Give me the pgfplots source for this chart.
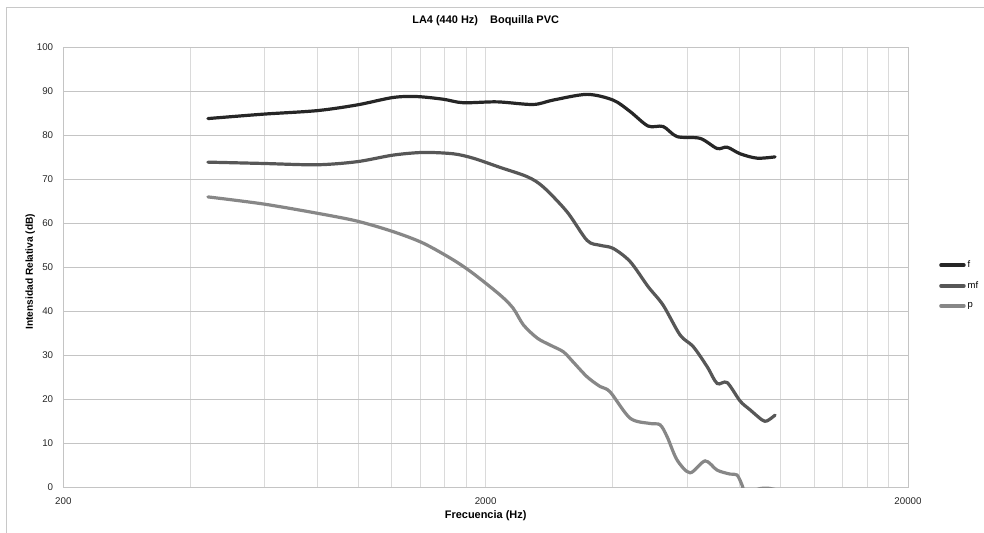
\documentclass[border=0pt]{standalone}
\usepackage{pgfplots}
\pgfplotsset{compat=1.18}
\usepackage{pgfplotstable}
\usepackage{fontspec}
\setmainfont{Liberation Sans}
\definecolor{cf}{HTML}{262626}
\definecolor{cmf}{HTML}{575757}
\definecolor{cp}{HTML}{878787}
\definecolor{gridh}{HTML}{C4C4C4}
\definecolor{gridv}{HTML}{DADADA}
\definecolor{framec}{HTML}{C8C8C8}

\pgfplotstableread{
x y
440 83.8
594 84.8
797 85.6
992 86.9
1208 88.6
1376 88.8
1586 88.2
1769 87.4
2129 87.6
2590 87.0
2888 88.0
3477 89.3
4006 88.0
4396 85.4
4849 82.1
5262 82.0
5679 79.7
6439 79.3
7064 77.0
7460 77.3
8007 75.8
8785 74.8
9689 75.1
}\dataf

\pgfplotstableread{
x y
440 73.9
594 73.6
797 73.3
992 74.0
1208 75.5
1422 76.1
1675 75.8
1868 74.8
2164 72.7
2507 70.6
2735 68.3
3117 62.6
3477 56.1
3733 55.0
4006 54.3
4396 51.3
4849 45.6
5262 41.4
5773 34.6
6198 32.0
6691 27.4
7064 23.6
7460 23.8
8007 19.6
8455 17.6
9027 15.3
9277 15.1
9689 16.4
}\datamf

\pgfplotstableread{
x y
440 66.0
594 64.4
797 62.3
992 60.5
1208 58.1
1422 55.5
1675 51.7
1868 48.6
2164 43.7
2323 40.7
2457 36.9
2650 33.9
2846 32.3
3054 30.8
3221 28.5
3477 25.1
3733 22.9
3941 21.7
4396 15.7
4903 14.5
5176 14.2
5378 11.5
5679 6.2
6096 3.3
6617 6.0
7064 3.9
7583 3.0
7874 2.8
8092 0.5
8318 -2.5
8785 -0.5
9277 -0.2
9689 -0.5
}\datap

\begin{document}
\begin{tikzpicture}
\path[use as bounding box] (-63.3bp,-45.7bp) rectangle (920.7bp,487.3bp);
\draw[framec, line width=1bp] (-56.6bp,-80bp) -- (-56.6bp,479.3bp) -- (1000bp,479.3bp);
\begin{axis}[
  at={(0,0)}, anchor=south west,
  scale only axis, width=844.7bp, height=440bp,
  xmode=log, xmin=200, xmax=20000, ymin=0, ymax=100,
  xtick={200,2000,20000}, xticklabels={200,2000,20000},
  minor xtick={400,600,800,1000,1200,1400,1600,1800,4000,6000,8000,10000,12000,14000,16000,18000},
  ytick={0,10,...,100},
  /pgf/number format/assume math mode=true,
  tick style={draw=none}, minor tick style={draw=none},
  xmajorgrids, xminorgrids, ymajorgrids,
  major x grid style={gridv, line width=1bp},
  minor x grid style={gridv, line width=1bp},
  major y grid style={gridh, line width=1bp},
  axis line style={draw=gridh, line width=1bp},
  ticklabel style={font=\fontsize{9.8}{11}\selectfont, text=black!85},
  yticklabel style={inner sep=0pt, anchor=east, xshift=-10bp},
  xticklabel style={inner sep=0pt, anchor=north, yshift=-10.5bp},
  title={LA4 (440 Hz)\hspace{1.1em}Boquilla PVC},
  title style={at={(axis description cs:0.5,1.046)}, anchor=center, font=\fontsize{11}{13}\selectfont\bfseries},
  xlabel={Frecuencia (Hz)},
  xlabel style={at={(axis description cs:0.5,-0.0652)}, anchor=center, font=\fontsize{11}{13}\selectfont\bfseries},
  ylabel={Intensidad Relativa (dB)},
  ylabel style={at={(axis description cs:-0.0391,0.49)}, anchor=center, font=\fontsize{10.2}{12}\selectfont\bfseries},
  legend style={draw=none, fill=none, at={(axis description cs:1,0.5)}, anchor=west, xshift=31bp, yshift=-17.7bp,
    font=\fontsize{9.5}{10}\selectfont, row sep=8.5bp, inner sep=0pt},
  legend image code/.code={\draw[#1, line width=3.5bp, line cap=round] (0bp,0bp) -- (23bp,0bp);},
  legend cell align=left,
]
\addplot[cf, line width=3.2bp, line cap=round, smooth, tension=0.5] table[x=x,y=y] {\dataf};
\addlegendentry{f}
\addplot[cmf, line width=3.2bp, line cap=round, smooth, tension=0.5] table[x=x,y=y] {\datamf};
\addlegendentry{mf}
\addplot[cp, line width=3.2bp, line cap=round, smooth, tension=0.5] table[x=x,y=y] {\datap};
\addlegendentry{p}
\end{axis}
\end{tikzpicture}
\end{document}
